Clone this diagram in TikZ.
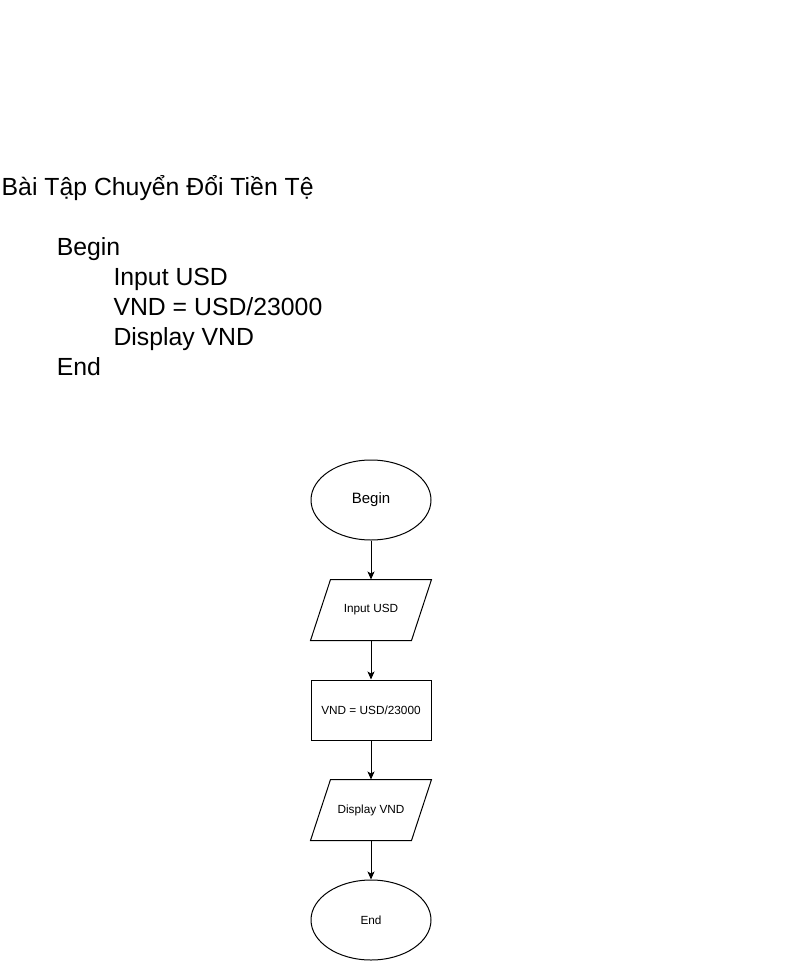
\documentclass[tikz,border=0pt]{standalone}
\usepackage{fontspec}
\setmainfont{Liberation Sans}
\usetikzlibrary{shapes.geometric,arrows.meta}
\begin{document}
\begin{tikzpicture}[x=1pt,y=-1pt,line width=1pt,
  bigtxt/.style={anchor=base west,inner sep=0pt,font=\fontsize{24.8}{30}\selectfont},
  term/.style={draw,ellipse,minimum width=120pt,minimum height=80pt,inner sep=0pt},
  procbox/.style={draw,rectangle,minimum width=120pt,minimum height=60pt,inner sep=0pt,font=\fontsize{11.8}{14}\selectfont},
  iobox/.style={rectangle,minimum width=120pt,minimum height=60pt,inner sep=0pt,font=\fontsize{11.8}{14}\selectfont},
  flow/.style={-{Stealth[length=8pt,width=7pt,inset=2pt]}}]
\useasboundingbox (0,0) rectangle (792,961);
\fill[white] (0,0) rectangle (792,961);
% pseudo-code text
\node[bigtxt] (title) at (1.2,195) {Bài Tập Chuyển Đổi Tiền Tệ};
\node[bigtxt] (pbegin) at (56.3,255) {Begin};
\node[bigtxt] (pinput) at (113,285) {Input USD};
\node[bigtxt] (pcalc) at (113,315) {VND = USD/23000};
\node[bigtxt] (pdisp) at (113,345) {Display VND};
\node[bigtxt] (pend) at (56.3,375) {End};
% flowchart
\node[term,font=\fontsize{15}{18}\selectfont] (begin) at (371,500) {Begin};
\node[iobox] (input) at (371,610) {Input USD};
\draw ([xshift=20pt]input.north west) -- (input.north east) -- ([xshift=-20pt]input.south east) -- (input.south west) -- cycle;
\node[procbox] (calc) at (371,710) {VND = USD/23000};
\node[iobox] (disp) at (371,810) {Display VND};
\draw ([xshift=20pt]disp.north west) -- (disp.north east) -- ([xshift=-20pt]disp.south east) -- (disp.south west) -- cycle;
\node[term,font=\fontsize{11.8}{14}\selectfont] (end) at (371,920) {End};
\draw[flow] (begin.south) -- (input.north);
\draw[flow] (input.south) -- (calc.north);
\draw[flow] (calc.south) -- (disp.north);
\draw[flow] (disp.south) -- (end.north);
\end{tikzpicture}
\end{document}
